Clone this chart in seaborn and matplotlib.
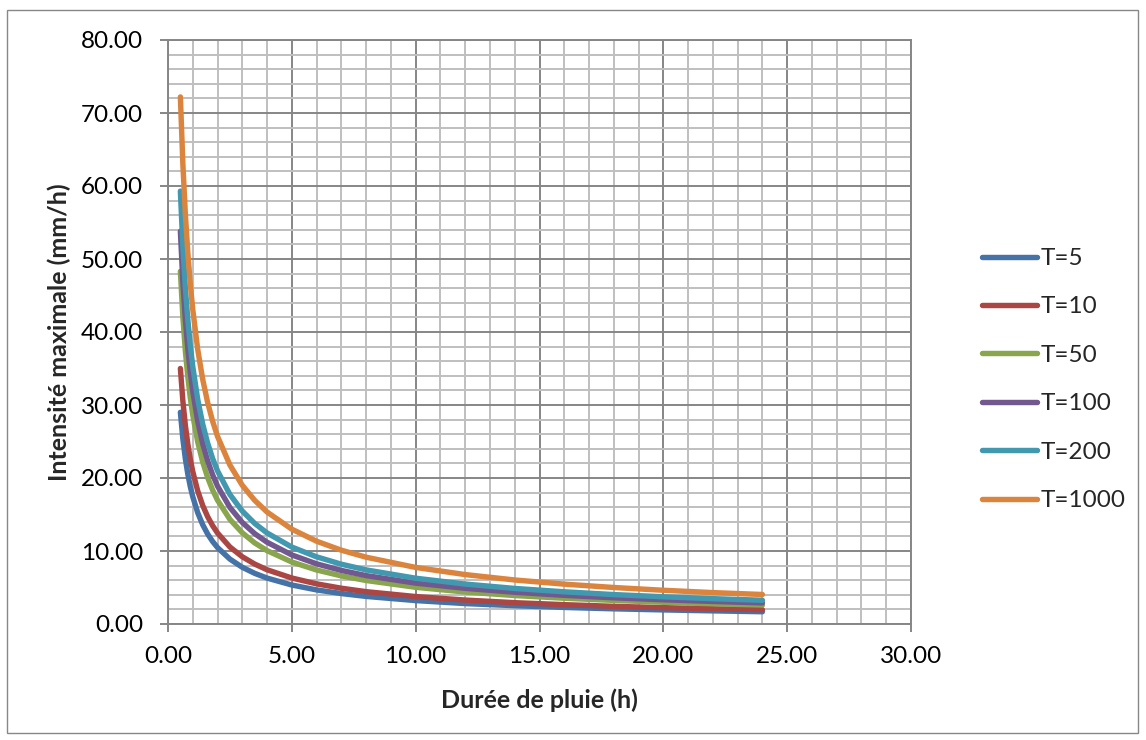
import numpy as np
import pandas as pd
import matplotlib
matplotlib.use("Agg")
import matplotlib.pyplot as plt
from matplotlib.ticker import MultipleLocator, FormatStrFormatter
from matplotlib.patches import Rectangle
import seaborn as sns

durations = [0.5, 0.6, 0.7, 0.8, 0.9, 1.0, 1.2, 1.4, 1.6, 1.8, 2.0, 2.5, 3, 3.5, 4,
             5, 6, 7, 8, 10, 12, 14, 16, 18, 20, 22, 24]
T5 = [29.0, 25.36, 22.65, 20.53, 18.83, 17.43, 15.24, 13.61, 12.33, 11.31, 10.47, 8.89,
      7.77, 6.94, 6.29, 5.34, 4.67, 4.17, 3.78, 3.21, 2.80, 2.51, 2.27, 2.08, 1.93, 1.80, 1.68]
T10 = [35.0, 30.56, 27.24, 24.66, 22.59, 20.88, 18.23, 16.25, 14.71, 13.48, 12.46, 10.55,
       9.21, 8.21, 7.43, 6.30, 5.50, 4.90, 4.43, 3.76, 3.28, 2.92, 2.65, 2.42, 2.24, 2.09, 1.96]
T50 = [48.3, 42.09, 37.46, 33.87, 30.99, 28.62, 24.94, 22.20, 20.07, 18.36, 16.96, 14.33,
       12.49, 11.11, 10.05, 8.49, 7.40, 6.59, 5.96, 5.03, 4.38, 3.90, 3.53, 3.23, 2.98, 2.77, 2.60]
T100 = [53.8, 46.88, 41.73, 37.73, 34.52, 31.88, 27.78, 24.73, 22.35, 20.45, 18.89, 15.96,
        13.91, 12.38, 11.20, 9.46, 8.24, 7.34, 6.63, 5.60, 4.89, 4.35, 3.93, 3.59, 3.32, 3.09, 2.89]
T200 = [59.3, 51.72, 46.07, 41.69, 38.16, 35.26, 30.75, 27.40, 24.79, 22.69, 20.97, 17.74,
        15.47, 13.78, 12.47, 10.54, 9.20, 8.19, 7.41, 6.27, 5.47, 4.87, 4.41, 4.03, 3.73, 3.47, 3.25]
T1000 = [72.2, 63.03, 56.19, 50.87, 46.60, 43.08, 37.61, 33.53, 30.35, 27.80, 25.70, 21.77,
         19.00, 16.94, 15.34, 12.99, 11.34, 10.11, 9.15, 7.75, 6.77, 6.03, 5.46, 5.00, 4.62, 4.30, 4.04]

labels = ["T=5", "T=10", "T=50", "T=100", "T=200", "T=1000"]
series = [T5, T10, T50, T100, T200, T1000]
colors = ["#4572A7", "#AA4643", "#89A54E", "#71588F", "#4198AF", "#DB843D"]

rows = []
for lab, vals in zip(labels, series):
    for d, v in zip(durations, vals):
        rows.append({"Durée": d, "Intensité": v, "T": lab})
df = pd.DataFrame(rows)

sns.set_theme(style="white")
plt.rcParams['font.family'] = ['Lato', 'DejaVu Sans']

fig = plt.figure(figsize=(11.46, 7.40), dpi=100)
ax = fig.add_axes([168/1146, 1-624/740, (911-168)/1146, (624-40)/740])

sns.lineplot(data=df, x="Durée", y="Intensité", hue="T", hue_order=labels,
             palette=colors, linewidth=3.9, ax=ax, sort=False,
             solid_capstyle="round", solid_joinstyle="round")

ax.set_xlim(0, 30)
ax.set_ylim(0, 80)
ax.xaxis.set_major_locator(MultipleLocator(5))
ax.xaxis.set_minor_locator(MultipleLocator(1))
ax.yaxis.set_major_locator(MultipleLocator(10))
ax.yaxis.set_minor_locator(MultipleLocator(2))
ax.xaxis.set_major_formatter(FormatStrFormatter("%.2f"))
ax.yaxis.set_major_formatter(FormatStrFormatter("%.2f"))

ax.grid(which="minor", color="#BFBFBF", linewidth=1.4)
ax.grid(which="major", color="#868686", linewidth=1.4)
ax.set_axisbelow(True)
for s in ax.spines.values():
    s.set_color("#868686")
    s.set_linewidth(1.4)

ax.tick_params(which="major", direction="out", length=6, width=1.4, color="#868686",
               labelsize=17.5, labelcolor="black", bottom=True, left=True)
ax.tick_params(axis="y", which="major", pad=12)
ax.tick_params(axis="x", which="major", pad=10)
ax.tick_params(which="minor", length=0)

ax.set_xlabel("Durée de pluie (h)", fontsize=18, fontweight="bold", labelpad=15)
ax.set_ylabel("Intensité maximale (mm/h)", fontsize=18, fontweight="bold", labelpad=7)

leg = ax.legend(loc="upper left", bbox_to_anchor=(982/1146, 1-248/740),
                bbox_transform=fig.transFigure, frameon=False, fontsize=17.5,
                handlelength=2.25, handletextpad=0.15, labelspacing=1.13,
                borderpad=0, borderaxespad=0)
for h in leg.get_lines():
    h.set_linewidth(3.9)
    h.set_solid_capstyle("round")

fig.patches.append(Rectangle((7/1146, 1-733/740), (1138-7)/1146, (733-10)/740,
                             transform=fig.transFigure, fill=False,
                             edgecolor="#888888", linewidth=1.0))

fig.savefig("out.png", dpi=100)
